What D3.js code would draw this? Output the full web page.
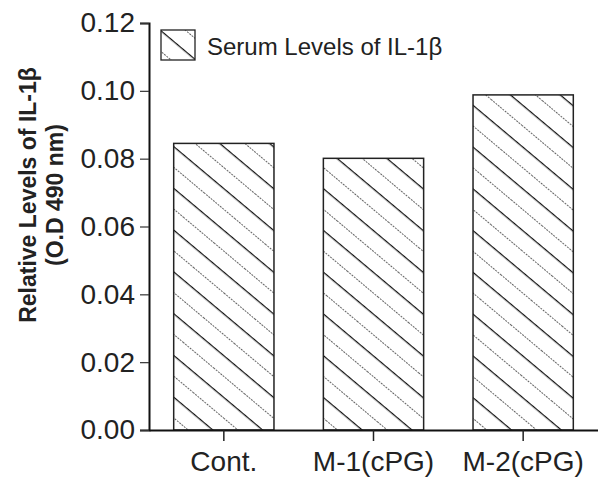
<!DOCTYPE html>
<html>
<head>
<meta charset="utf-8">
<script src="https://cdn.jsdelivr.net/npm/d3@7"></script>
<style>
body{margin:0;background:#fff;}
svg{display:block;font-family:"Liberation Sans",Arial,sans-serif;}
</style>
</head>
<body>
<svg id="chart" width="598" height="480"></svg>
<script>
const categories = ["Cont.", "M-1(cPG)", "M-2(cPG)"];
const values = [0.0845, 0.0801, 0.0988];
const yTicks = [0, 0.02, 0.04, 0.06, 0.08, 0.10, 0.12];
const legendLabel = "Serum Levels of IL-1\u03B2";
const yLabelLines = ["Relative Levels of IL-1\u03B2", "(O.D 490 nm)"];

const svg = d3.select("#chart");
const x0 = 149, x1 = 598, yTop = 23, yBot = 430;

const x = d3.scaleBand().domain(categories).range([x0, x1]).paddingInner(0.33).paddingOuter(0.165);
const y = d3.scaleLinear().domain([0, 0.12]).range([yBot, yTop]);

const defs = svg.append("defs");
const pat = defs.append("pattern").attr("id","hatch").attr("patternUnits","userSpaceOnUse")
  .attr("width",40).attr("height",32).attr("patternTransform","rotate(40)");
pat.append("line").attr("x1",0).attr("x2",40).attr("y1",0.5).attr("y2",0.5).attr("stroke","#111").attr("stroke-width",1.4);
pat.append("line").attr("x1",0).attr("x2",40).attr("y1",16.5).attr("y2",16.5).attr("stroke","#666").attr("stroke-width",1).attr("stroke-dasharray","2,1");

// bars
svg.append("g").selectAll("rect").data(categories).join("rect")
  .attr("x", d => x(d)).attr("width", x.bandwidth())
  .attr("y", (d,i) => y(values[i])).attr("height", (d,i) => y(0) - y(values[i]))
  .attr("fill","url(#hatch)").attr("stroke","#222").attr("stroke-width",1.5);

// y axis
const yAxis = d3.axisLeft(y).tickValues(yTicks).tickFormat(d3.format(".2f")).tickSize(9).tickPadding(5);
const gy = svg.append("g").attr("transform",`translate(${x0},0)`).call(yAxis);
gy.select(".domain").attr("stroke","#111").attr("stroke-width",2);
gy.selectAll(".tick line").attr("stroke","#333").attr("stroke-width",1.2);
gy.selectAll(".tick text").attr("font-size",28).attr("fill","#222");

// x axis
const xAxis = d3.axisBottom(x).tickSize(11).tickSizeOuter(0).tickPadding(10);
const gx = svg.append("g").attr("transform",`translate(0,${yBot})`).call(xAxis);
gx.select(".domain").attr("stroke","#111").attr("stroke-width",2);
gx.selectAll(".tick line").attr("stroke","#222").attr("stroke-width",1.5);
gx.selectAll(".tick text").attr("font-size",28).attr("fill","#222");

// y label
const yl = svg.append("text").attr("transform","translate(0,195) rotate(-90)")
  .attr("text-anchor","middle").attr("font-weight","bold").attr("font-size",23).attr("fill","#222");
yLabelLines.forEach((t,i) => yl.append("tspan").attr("x",0).attr("y", 36 + i*27).text(t));

// legend
const lg = svg.append("g").attr("transform","translate(161,30)");
lg.append("rect").attr("width",34).attr("height",30).attr("fill","url(#hatch)").attr("stroke","#222").attr("stroke-width",1.3);
lg.append("text").attr("x",46).attr("y",25).attr("font-size",24).attr("fill","#222").text(legendLabel);
</script>
</body>
</html>
